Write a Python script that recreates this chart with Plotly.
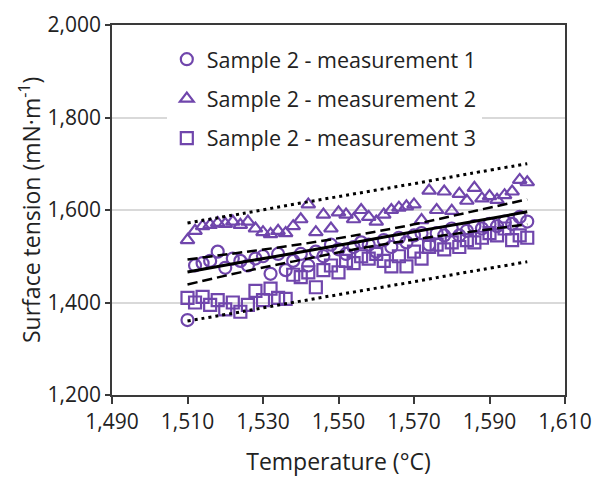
import plotly.graph_objects as go

# ---- data ----
temps = [1510, 1512, 1514, 1516, 1518, 1520, 1522, 1524, 1526, 1528,
         1530, 1532, 1534, 1536, 1538, 1540, 1542, 1544, 1546, 1548,
         1550, 1552, 1554, 1556, 1558, 1560, 1562, 1564, 1566, 1568,
         1570, 1572, 1574, 1576, 1578, 1580, 1582, 1584, 1586, 1588,
         1590, 1592, 1594, 1596, 1598, 1600]

meas1 = [1362, 1480, 1485, 1490, 1510, 1475, 1495, 1490, 1480, 1495,
         1500, 1462, 1505, 1470, 1490, 1505, 1480, 1510, 1500, 1525,
         1515, 1505, 1520, 1530, 1525, 1510, 1535, 1520, 1540, 1530,
         1545, 1550, 1525, 1550, 1545, 1560, 1545, 1555, 1565, 1560,
         1570, 1565, 1575, 1570, 1585, 1575]

meas2 = [1535, 1555, 1565, 1568, 1572, 1570, 1575, 1568, 1575, 1560,
         1552, 1548, 1555, 1550, 1565, 1580, 1612, 1552, 1590, 1560,
         1595, 1590, 1580, 1600, 1585, 1575, 1590, 1600, 1605, 1608,
         1612, 1578, 1642, 1600, 1640, 1598, 1635, 1620, 1648, 1625,
         1630, 1622, 1632, 1640, 1665, 1660]

meas3 = [1410, 1400, 1412, 1395, 1405, 1385, 1400, 1380, 1395, 1425,
         1405, 1430, 1410, 1408, 1460, 1455, 1465, 1433, 1470, 1480,
         1465, 1490, 1485, 1500, 1495, 1505, 1490, 1478, 1500, 1478,
         1510, 1495, 1520, 1525, 1515, 1530, 1520, 1535, 1530, 1540,
         1550, 1545, 1560, 1535, 1545, 1540]

# regression line and bands
band_T = [1510, 1525, 1540, 1555, 1570, 1585, 1600]
fit_mean = [1466, 1488, 1509, 1531, 1553, 1574, 1596]
conf_upper = [1493, 1509, 1526, 1546, 1569, 1596, 1623]
conf_lower = [1439, 1467, 1492, 1516, 1536, 1553, 1569]
pred_upper = [1572, 1593, 1615, 1636, 1657, 1679, 1700]
pred_lower = [1360, 1381, 1403, 1424, 1445, 1467, 1488]

names = ["Sample 2 - measurement 1", "Sample 2 - measurement 2", "Sample 2 - measurement 3"]
symbols = ["circle-open", "triangle-up-open", "square-open"]

x_ticks = [1490, 1510, 1530, 1550, 1570, 1590, 1610]
y_ticks = [1200, 1400, 1600, 1800, 2000]

PURPLE = "rgb(112,70,172)"
FONT = "Open Sans"
AXIS = "#3a3a3a"

fig = go.Figure()

for i, (vals, nm, sym) in enumerate(zip([meas1, meas2, meas3], names, symbols)):
    fig.add_trace(go.Scatter(
        x=temps, y=vals, mode="markers", name=nm,
        legendgroup=f"g{i}",
        marker=dict(symbol=sym, size=12, color=PURPLE, line=dict(width=2.2, color=PURPLE)),
    ))

line_specs = [
    (pred_upper, dict(color="black", width=3, dash="3px,4px")),
    (pred_lower, dict(color="black", width=3, dash="3px,4px")),
    (conf_upper, dict(color="black", width=2.5, dash="10px,5px")),
    (conf_lower, dict(color="black", width=2.5, dash="10px,5px")),
    (fit_mean, dict(color="black", width=3)),
]
for vals, ln in line_specs:
    fig.add_trace(go.Scatter(x=band_T, y=vals, mode="lines", line=dict(shape="spline", **ln),
                             showlegend=False, hoverinfo="skip"))

fig.update_layout(
    width=593, height=478,
    margin=dict(l=112, r=28, t=25, b=83),
    paper_bgcolor="white", plot_bgcolor="white",
    font=dict(family=FONT, size=21, color="#222"),
    showlegend=True,
    legend=dict(
        x=0.121, xanchor="left", y=0.963, yanchor="top",
        bgcolor="white", borderwidth=0,
        traceorder="grouped", tracegroupgap=8.5,
        font=dict(family=FONT, size=21.5, color="#222"),
        itemwidth=30,
    ),
    xaxis=dict(
        range=[1490, 1610], tickvals=x_ticks, tickformat=",d", automargin=False,
        showline=True, linecolor=AXIS, linewidth=1.5, mirror=True,
        ticks="outside", ticklen=7, tickwidth=1.5, tickcolor=AXIS,
        showgrid=False, zeroline=False,
        title=dict(text="Temperature (°C)", standoff=20, font=dict(size=23)),
    ),
    yaxis=dict(
        range=[1200, 2000], tickvals=y_ticks, tickformat=",d", automargin=False,
        showline=True, linecolor=AXIS, linewidth=1.5, mirror=True,
        ticks="outside", ticklen=5, tickwidth=1.5, tickcolor=AXIS,
        showgrid=True, gridcolor="#d9d9d9", gridwidth=1.5, zeroline=False,
    ),
    annotations=[dict(
        text="Surface tension (mN·m<sup>-1</sup>)", textangle=-90,
        xref="paper", yref="paper", x=(30 - 112) / 453, y=0.5,
        xanchor="center", yanchor="middle", showarrow=False,
        font=dict(family=FONT, size=23, color="#222"),
    )],
)

fig.write_html(
    "out.html",
    config={"displayModeBar": False},
    post_script="document.body.style.margin='0';"
                "document.documentElement.style.overflow='hidden';"
                "document.body.style.overflow='hidden';",
)
